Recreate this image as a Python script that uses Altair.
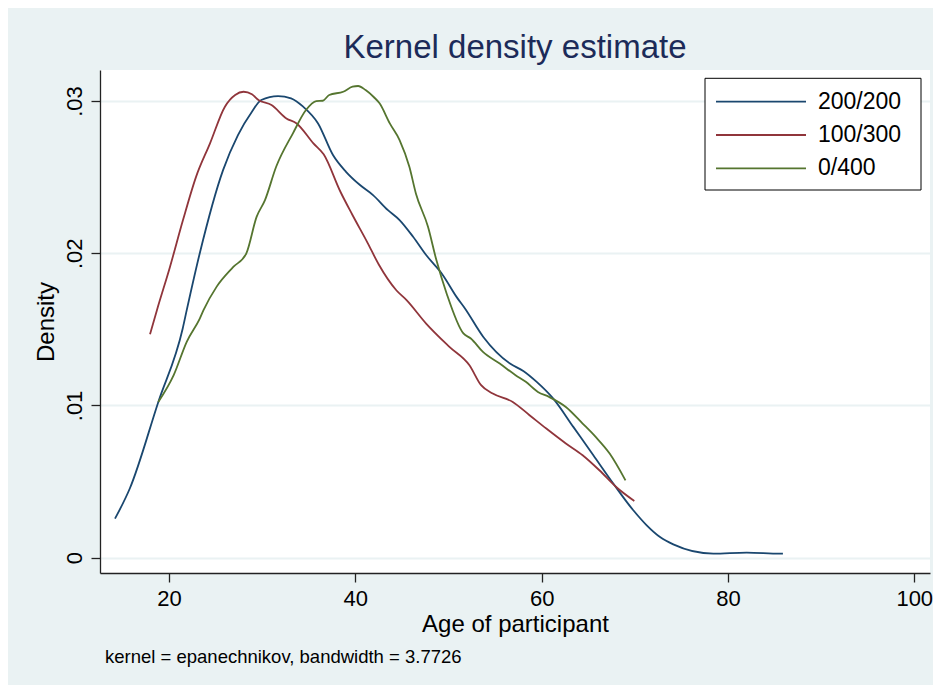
import altair as alt
import pandas as pd

series = ["200/200", "100/300", "0/400"]
colors = ["#1a476f", "#90353b", "#55752f"]

age_200 = [14.2, 15.8, 18.85, 21.47, 21.9, 23.3, 25.8, 27.4, 28.9, 29.9, 31.7, 33.1, 34.4, 36.0,
           37.6, 39.0, 40.5, 41.9, 43.5, 44.75, 46.2, 47.6, 49.4, 50.9, 51.77, 53.74, 56.6,
           58.03, 59.47, 61.25, 63.4, 65.55, 67.69, 69.84, 71.28, 72.71, 74.13, 78.43, 82.01,
           85.58, 85.9]
dens_200 = [0.00256, 0.00456, 0.01023, 0.01506, 0.01626, 0.0200, 0.02546, 0.02776, 0.0293,
            0.03007, 0.03033, 0.03018, 0.02963, 0.02853, 0.02645, 0.02535, 0.02448, 0.02382,
            0.02283, 0.02218, 0.02108, 0.01988, 0.01856, 0.0171, 0.01637, 0.0145, 0.01275,
            0.01227, 0.01155, 0.01045, 0.00859, 0.00673, 0.00487, 0.00311, 0.00212, 0.00135,
            0.00087, 0.00026, 0.00033, 0.00026, 0.00026]

age_100 = [17.96, 18.7, 20.1, 21.5, 22.9, 24.4, 26.0, 27.1, 28.0, 28.9, 29.6, 31.0, 32.6, 33.7,
           35.5, 36.6, 38.4, 39.65, 41.3, 42.5, 44.4, 45.5, 47.6, 50.1, 52.25, 53.5, 54.75,
           56.9, 58.7, 60.5, 62.6, 64.4, 66.2, 68.0, 69.95]
dens_100 = [0.01468, 0.01626, 0.0191, 0.02218, 0.02502, 0.02722, 0.02963, 0.0304, 0.03061,
            0.03044, 0.03007, 0.02974, 0.02886, 0.02853, 0.02722, 0.0265, 0.02404, 0.02256,
            0.0207, 0.01928, 0.01757, 0.01692, 0.01538, 0.01385, 0.01264, 0.01133, 0.01078,
            0.01023, 0.00936, 0.00848, 0.0075, 0.00673, 0.00574, 0.00464, 0.00372]

age_0 = [18.85, 20.5, 21.9, 23.3, 23.7, 25.1, 26.9, 28.3, 29.4, 30.3, 31.5, 33.3, 34.7, 35.8,
         36.5, 37.2, 38.7, 39.7, 40.3, 41.1, 42.0, 42.6, 43.7, 44.75, 45.8, 46.5, 47.8, 48.7,
         49.8, 51.6, 52.4, 53.7, 55.5, 57.2, 58.3, 59.6, 60.8, 62.6, 64.4, 65.8, 67.3, 69.0]
dens_0 = [0.01023, 0.01199, 0.01418, 0.01571, 0.01626, 0.01779, 0.0191, 0.01999, 0.02239,
          0.02349, 0.02568, 0.02788, 0.02941, 0.0300, 0.03002, 0.0304, 0.03061, 0.03094,
          0.03099, 0.03072, 0.03025, 0.02985, 0.02853, 0.02744, 0.02568, 0.02393, 0.02174,
          0.01955, 0.01736, 0.01473, 0.0144, 0.01352, 0.01275, 0.01199, 0.01155, 0.01089,
          0.01056, 0.0099, 0.00881, 0.00793, 0.00684, 0.00508]

x_ticks = [20, 40, 60, 80, 100]
y_ticks = [0, 0.01, 0.02, 0.03]
note = "kernel = epanechnikov, bandwidth = 3.7726"

rows = []
for name, ages, dens in [(series[0], age_200, dens_200), (series[1], age_100, dens_100),
                         (series[2], age_0, dens_0)]:
    for a, d in zip(ages, dens):
        rows.append({"series": name, "age": a, "density": d})
df = pd.DataFrame(rows)

FONT = "Liberation Sans"
color_scale = alt.Scale(domain=series, range=colors)

lines = alt.Chart(df).mark_line(strokeWidth=1.8, interpolate="monotone").encode(
    x=alt.X("age:Q",
            scale=alt.Scale(domain=[12.59, 101.69], nice=False, zero=False),
            axis=alt.Axis(values=x_ticks, title="Age of participant", grid=False,
                          labelFontSize=22, titleFontSize=24, labelPadding=6.5,
                          titlePadding=3, labelFlush=False, labelOverlap=False)),
    y=alt.Y("density:Q",
            scale=alt.Scale(domain=[-0.00101, 0.03204], nice=False, zero=False),
            axis=alt.Axis(values=y_ticks, title="Density", grid=True,
                          labelExpr="datum.value == 0 ? '0' : '.0' + round(datum.value * 100)",
                          labelAngle=-90, labelAlign="center", labelBaseline="bottom",
                          labelFontSize=22, titleFontSize=24, labelPadding=5,
                          titlePadding=5, labelFlush=False, labelOverlap=False)),
    color=alt.Color("series:N", scale=color_scale, legend=None),
    order=alt.Order("age:Q"),
)

box = alt.Chart(pd.DataFrame({"k": [0]})).mark_rect(
    fill="white", stroke="black", strokeWidth=1
).encode(x=alt.value(605), x2=alt.value(821), y=alt.value(8.3), y2=alt.value(120))

leg_df = pd.DataFrame({"series": series})
leg_y = alt.Y("series:N", scale=alt.Scale(type="point", domain=series, range=[31.7, 98.3],
                                          padding=0), axis=None)
leg_rules = alt.Chart(leg_df).mark_rule(strokeWidth=1.8).encode(
    x=alt.value(616), x2=alt.value(706), y=leg_y,
    color=alt.Color("series:N", scale=color_scale, legend=None),
)
leg_text = alt.Chart(leg_df).mark_text(
    align="left", baseline="middle", fontSize=23, font=FONT, color="black"
).encode(x=alt.value(718), y=leg_y, text="series:N")

note_layer = alt.Chart(pd.DataFrame({"t": [note]})).mark_text(
    align="left", baseline="middle", fontSize=18.5, font=FONT, color="black"
).encode(x=alt.value(5), y=alt.value(587), text="t:N")

chart = alt.layer(lines, box, leg_rules, leg_text, note_layer).resolve_scale(
    y="independent"
).properties(
    width=830, height=503,
    title=alt.TitleParams("Kernel density estimate", fontSize=33, font=FONT,
                          fontWeight="normal", color="#1c2b59", anchor="middle",
                          frame="group", offset=5),
    background="#eaf2f3",
    padding={"left": 92, "top": 62, "right": 3, "bottom": 112},
    autosize=alt.AutoSizeParams(type="none"),
).configure_view(
    fill="white", stroke=None
).configure_axis(
    labelFont=FONT, titleFont=FONT, labelColor="black", titleColor="black",
    titleFontWeight="normal", domainColor="#222", domainWidth=1.3,
    tickColor="#222", tickWidth=1.3, tickSize=9,
    gridColor="#eaf2f3", gridWidth=2,
)

chart.save("out.html", embed_options={"renderer": "svg", "actions": False})
